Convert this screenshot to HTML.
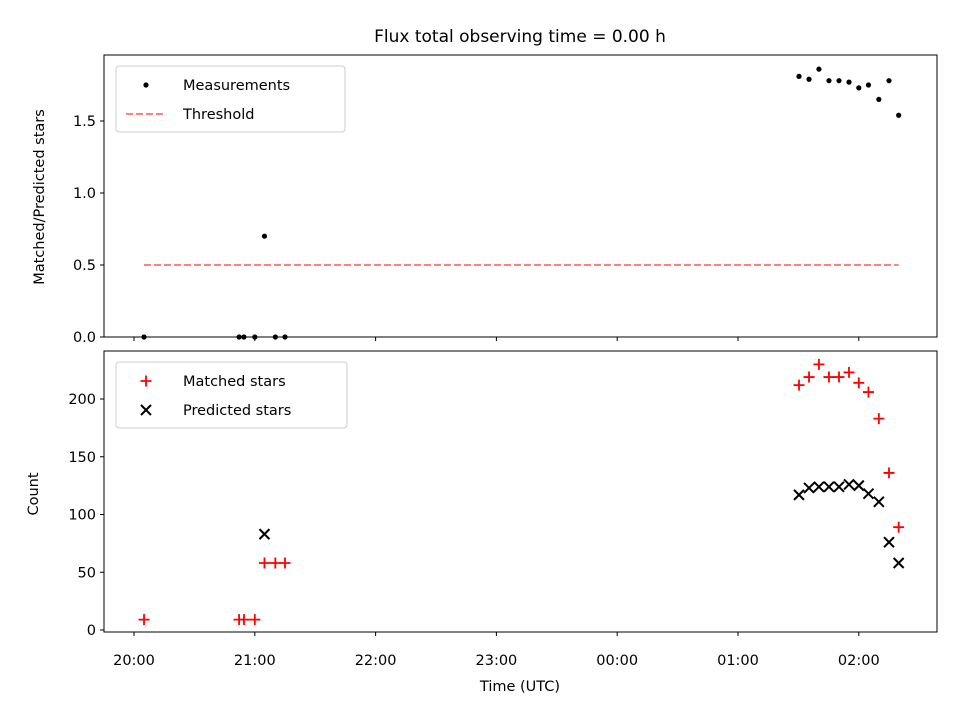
<!DOCTYPE html>
<html><head><meta charset="utf-8"><style>
body{margin:0;background:#fff;font-family:"Liberation Sans","DejaVu Sans",sans-serif}
svg text{font-family:"DejaVu Sans","Liberation Sans",sans-serif;font-size:14.5px;fill:#000}
</style></head><body>
<svg id="c" width="960" height="720" xmlns="http://www.w3.org/2000/svg"></svg>
<script>
const hours = [0.083,0.87,0.91,1.0,1.08,1.17,1.25,5.505,5.588,5.67,5.753,5.836,5.919,6.0,6.08,6.166,6.25,6.33];
const measurements = [0,0,0,0,0.70,0,0,1.81,1.79,1.86,1.78,1.78,1.77,1.73,1.75,1.65,1.78,1.54];
const matchedStars = [9,9,9,9,58,58,58,212,219,230,219,219,223,214,206,183,136,89];
const predHours = [1.08,5.505,5.588,5.67,5.753,5.836,5.919,6.0,6.08,6.166,6.25,6.33];
const predictedStars = [83,117,123,124,124,124,126,125,118,111,76,58];
const threshold = 0.5;
const xTickLabels = ["20:00","21:00","22:00","23:00","00:00","01:00","02:00"];
const topTicks = [0.0,0.5,1.0,1.5];
const botTicks = [0,50,100,150,200];

const svg=document.getElementById('c');
const NS='http://www.w3.org/2000/svg';
function el(t,a,p){const e=document.createElementNS(NS,t);for(const k in a)e.setAttribute(k,a[k]);(p||svg).appendChild(e);return e;}
const L=104,R=937,T1=55,B1=337,T2=351,B2=632;
const x=h=>134+h*120.8;
const y1=v=>337-v*144;
const y2=v=>630-v*1.155;

let g=el('g',{});
let f=el('rect',{x:L,y:T1,width:R-L,height:B1-T1,fill:'none',stroke:'#000','stroke-width':1},g);

topTicks.forEach(v=>{el('line',{x1:L-4,x2:L,y1:y1(v),y2:y1(v),stroke:'#000'},g);
 const t=el('text',{x:L-8,y:y1(v)+5,'text-anchor':'end'},g);t.textContent=v.toFixed(1);
 });
xTickLabels.forEach((s,i)=>el('line',{x1:x(i),x2:x(i),y1:B1,y2:B1+4,stroke:'#000'},g));
let th=el('line',{x1:x(hours[0]),x2:x(hours[hours.length-1]),y1:y1(threshold),y2:y1(threshold),stroke:'#ff8080','stroke-width':2,'stroke-dasharray':'7,3'},g);

hours.forEach((h,i)=>{const c=el('circle',{cx:x(h),cy:y1(measurements[i]),r:2.6,fill:'#000'},g);
 });
let t=el('text',{x:520,y:42,'text-anchor':'middle'});t.style.fontSize='17px';t.textContent='Flux total observing time = 0.00 h';

t=el('text',{x:0,y:0,'text-anchor':'middle',transform:'translate(44,197) rotate(-90)'});t.textContent='Matched/Predicted stars';

let lg=el('g',{});
el('rect',{x:116,y:66,width:229,height:66,rx:3,fill:'#fff',stroke:'#ccc'},lg);
el('circle',{cx:146,cy:85,r:2.6,fill:'#000'},lg);
t=el('text',{x:183,y:90},lg);t.textContent='Measurements';
el('line',{x1:126,x2:166,y1:114,y2:114,stroke:'#ff8080','stroke-width':2,'stroke-dasharray':'7,3'},lg);
t=el('text',{x:183,y:119},lg);t.textContent='Threshold';

g=el('g',{});
f=el('rect',{x:L,y:T2,width:R-L,height:B2-T2,fill:'none',stroke:'#000'},g);

botTicks.forEach(v=>{el('line',{x1:L-4,x2:L,y1:y2(v),y2:y2(v),stroke:'#000'},g);
 const t=el('text',{x:L-8,y:y2(v)+5,'text-anchor':'end'},g);t.textContent=v;
 });
xTickLabels.forEach((s,i)=>{el('line',{x1:x(i),x2:x(i),y1:B2,y2:B2+4,stroke:'#000'},g);
 const t=el('text',{x:x(i),y:B2+33,'text-anchor':'middle'},g);t.textContent=s;
 });
function plus(cx,cy,p){return el('path',{d:`M${cx-5.5},${cy}H${cx+5.5}M${cx},${cy-5.5}V${cy+5.5}`,stroke:'#f00','stroke-width':1.8},p);}
function cross(cx,cy,p){return el('path',{d:`M${cx-5},${cy-5}L${cx+5},${cy+5}M${cx-5},${cy+5}L${cx+5},${cy-5}`,stroke:'#000','stroke-width':2},p);}
hours.forEach((h,i)=>{const q=plus(x(h),y2(matchedStars[i]),g);});
predHours.forEach((h,i)=>{const q=cross(x(h),y2(predictedStars[i]),g);});
t=el('text',{x:0,y:0,'text-anchor':'middle',transform:'translate(38,494) rotate(-90)'});t.textContent='Count';

t=el('text',{x:520,y:691,'text-anchor':'middle'});t.textContent='Time (UTC)';

lg=el('g',{});
el('rect',{x:116,y:362,width:231,height:66,rx:3,fill:'#fff',stroke:'#ccc'},lg);
plus(146,381,lg);t=el('text',{x:183,y:386},lg);t.textContent='Matched stars';
cross(146,410,lg);t=el('text',{x:183,y:415},lg);t.textContent='Predicted stars';
</script>
</body></html>
